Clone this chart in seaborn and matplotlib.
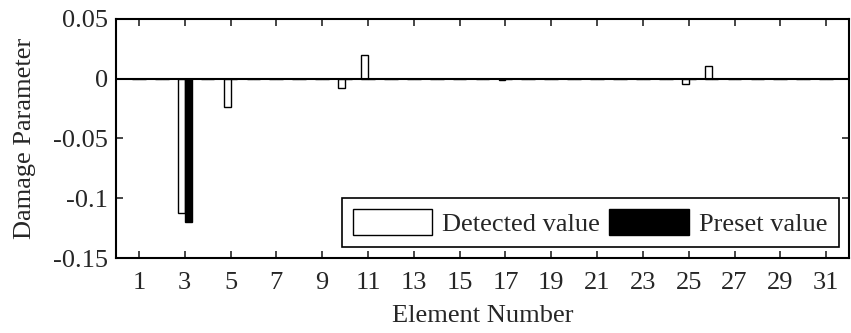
import numpy as np
import pandas as pd
import matplotlib
matplotlib.use("Agg")
import matplotlib.pyplot as plt
import seaborn as sns
from matplotlib.patches import Patch

elements = list(range(1, 32))
detected = [0.0] * 31
preset = [0.0] * 31
detected_vals = {3: -0.112, 5: -0.0235, 10: -0.0075, 11: 0.020, 17: -0.0012, 25: -0.0045, 26: 0.0105}
preset_vals = {3: -0.120}
for k, v in detected_vals.items():
    detected[k - 1] = v
for k, v in preset_vals.items():
    preset[k - 1] = v

xticks = list(range(1, 32, 2))
yticks = [-0.15, -0.1, -0.05, 0, 0.05]
yticklabels = ["-0.15", "-0.1", "-0.05", "0", "0.05"]

df = pd.DataFrame({
    "Element": elements * 2,
    "Value": detected + preset,
    "Series": ["Detected value"] * 31 + ["Preset value"] * 31,
})

sns.set_style("white")
plt.rcParams["font.family"] = ["Liberation Serif", "DejaVu Serif"]
FS = 19
plt.rcParams["font.size"] = FS

fig = plt.figure(figsize=(8.51, 3.33), dpi=100)
ax = fig.add_axes([0.1363, 0.2252, 0.8614, 0.7178])

sns.barplot(data=df, x="Element", y="Value", hue="Series", native_scale=True,
            palette={"Detected value": "white", "Preset value": "black"},
            edgecolor="black", linewidth=1.0, width=0.6, dodge=True, ax=ax,
            errorbar=None, legend=False)

ax.axhline(0, color="black", lw=1.5, zorder=3)

ax.set_xlim(0, 32)
ax.set_ylim(-0.15, 0.05)
ax.set_xticks(xticks)
ax.set_xticklabels([str(t) for t in xticks])
ax.set_yticks(yticks)
ax.set_yticklabels(yticklabels)
ax.tick_params(direction="in", top=True, right=True, length=5, width=1.2, labelsize=FS,
               bottom=True, left=True)
ax.tick_params(axis="x", pad=10)
ax.tick_params(axis="y", pad=6)
for s in ax.spines.values():
    s.set_color("black")
    s.set_linewidth(1.5)
ax.set_xlabel("Element Number", fontsize=FS, labelpad=8)
ax.set_ylabel("Damage Parameter", fontsize=FS, labelpad=12)

handles = [Patch(facecolor="white", edgecolor="black", lw=1.0),
           Patch(facecolor="black", edgecolor="black", lw=1.0)]
leg = ax.legend(handles, ["Detected value", "Preset value"], loc="lower right", ncol=2,
                handlelength=3.0, handleheight=1.1, columnspacing=0.35, handletextpad=0.4,
                fancybox=False, edgecolor="black", framealpha=1, fontsize=FS,
                borderpad=0.42, borderaxespad=0, bbox_to_anchor=(0.986, 0.046))
leg.get_frame().set_linewidth(1.2)

fig.savefig("out.png", dpi=100)
